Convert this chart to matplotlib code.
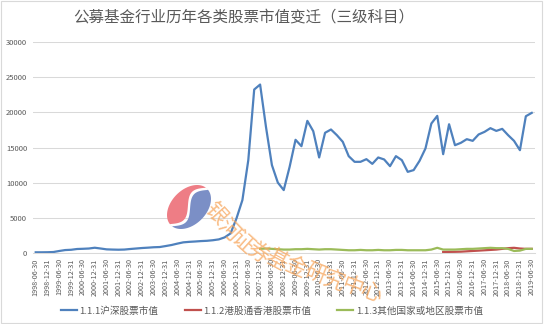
import numpy as np
import matplotlib
matplotlib.use("Agg")
import matplotlib.pyplot as plt
from matplotlib.lines import Line2D
from matplotlib.patches import Rectangle

plt.rcParams['font.family'] = ['Noto Sans CJK SC', 'DejaVu Sans']

# quarterly report dates, 1998-06-30 .. 2019-06-30
quarter_ends = ["03-31", "06-30", "09-30", "12-31"]
dates = []
for year in range(1998, 2020):
    for q in quarter_ends:
        d = f"{year}-{q}"
        if "1998-06-30" <= d <= "2019-06-30":
            dates.append(d)

# 1.1.1 A-share holdings (100m CNY)
hs_values = [
    60, 60, 70, 100, 250, 380, 420, 530, 560, 600,
    710, 600, 480, 450, 430, 450, 530, 600, 670, 720,
    780, 810, 950, 1100, 1300, 1480, 1550, 1600, 1660, 1700,
    1780, 1900, 2190, 2760, 4900, 7500, 13200, 23270, 23980, 17900,
    12490, 10000, 8930, 12250, 16100, 15190, 18800, 17330, 13580, 17100,
    17570, 16760, 15810, 13770, 12960, 12960, 13340, 12670, 13580, 13300,
    12340, 13770, 13200, 11530, 11780, 13100, 14860, 18420, 19510, 14050,
    18320, 15330, 15670, 16190, 15950, 16860, 17230, 17760, 17370, 17660,
    16760, 15950, 14620, 19460, 19940,
]

# 1.1.2 Stock Connect Hong Kong holdings, from 2015-09-30
hk_start = 69
hk_values = [100, 120, 130, 150, 200, 250, 300, 350, 400, 450,
             550, 650, 700, 600, 550, 550]

# 1.1.3 other countries / regions, from 2007-12-31
other_start = 38
other_values = [
    550, 600, 550, 500, 450, 450, 500, 500, 550, 500,
    450, 500, 500, 450, 400, 350, 350, 400, 350, 350,
    400, 350, 350, 400, 400, 350, 350, 350, 350, 450,
    700, 450, 450, 450, 500, 550, 550, 600, 650, 700,
    650, 650, 550, 250, 300, 550, 550,
]

series_names = ["1.1.1沪深股票市值", "1.1.2港股通香港股票市值", "1.1.3其他国家或地区股票市值"]
colors = ["#4F81BD", "#C0504D", "#9BBB59"]
text_gray = "#595959"

fig = plt.figure(figsize=(5.46, 3.24), dpi=100)
ax = fig.add_axes([0.06, 0.22, 0.9193, 0.6494])

x_all = np.arange(len(dates))
ax.plot(x_all, hs_values, color=colors[0], lw=1.6, solid_joinstyle="round")
ax.plot(np.arange(hk_start, hk_start + len(hk_values)), hk_values, color=colors[1], lw=1.6)
ax.plot(np.arange(other_start, other_start + len(other_values)), other_values,
        color=colors[2], lw=1.6)

ax.set_xlim(-0.5, len(dates) - 0.5)
ax.set_ylim(0, 30000)
ax.set_yticks(np.arange(0, 30001, 5000))
ax.set_yticklabels([str(v) for v in range(0, 30001, 5000)])
ax.set_xticks(x_all[::2])
ax.set_xticklabels(dates[::2], rotation=90)
ax.tick_params(axis="y", length=0, labelsize=5.5, labelcolor=text_gray, pad=4)
ax.tick_params(axis="x", length=0, labelsize=5.2, labelcolor=text_gray, pad=4)
ax.grid(axis="y", color="#D9D9D9", lw=0.75)
ax.set_axisbelow(True)
for side in ["top", "right", "left"]:
    ax.spines[side].set_visible(False)
ax.spines["bottom"].set_color("#D9D9D9")
ax.spines["bottom"].set_linewidth(0.75)

fig.text(0.447, 0.947, "公募基金行业历年各类股票市值变迁（三级科目）",
         ha="center", va="center", fontsize=11.2, color=text_gray)

handles = [Line2D([], [], color=c, lw=1.6) for c in colors]
fig.legend(handles, series_names, loc="center", bbox_to_anchor=(0.498, 0.04),
           ncol=3, frameon=False, fontsize=6.9, labelcolor=text_gray,
           handlelength=1.7, handletextpad=0.25, columnspacing=2.7)

# chart border
fig.patches.append(Rectangle((0.002, 0.003), 0.99, 0.994, transform=fig.transFigure,
                             fill=False, ec="#D9D9D9", lw=0.8))

# logo: tilted ellipse split by an S-curve
logo = fig.add_axes([162 / 546, (324 - 234) / 324, 54 / 546, 54 / 324])
logo.set_xlim(-1.05, 1.05)
logo.set_ylim(-1.05, 1.05)
logo.set_aspect("equal")
logo.axis("off")
b = 0.68
u = np.linspace(-1, 1, 200)
top = b * np.sqrt(1 - u ** 2)
s = 0.4 * b * np.sin(np.pi * u)
gap = 0.06
red_u = np.concatenate([u, u[::-1]])
red_v = np.concatenate([top, np.clip(s + gap, -top, top)[::-1]])
blue_u = np.concatenate([u, u[::-1]])
blue_v = np.concatenate([np.clip(s - gap, -top, top), (-top)[::-1]])
th = np.radians(45)
for uu, vv, c in [(red_u, red_v, "#EE7D85"), (blue_u, blue_v, "#7B8FC6")]:
    logo.fill(uu * np.cos(th) - vv * np.sin(th), uu * np.sin(th) + vv * np.cos(th),
              color=c, lw=0)

# light orange watermark
wm_chars = "银河证券基金研究中心"
wm_pos = [(215, 214), (229, 230), (243, 243), (258, 253), (276, 260),
          (295, 267), (315, 274), (334, 281), (353, 287), (371, 292)]
wm_rot = [-48, -46, -42, -36, -28, -24, -22, -20, -20, -20]
for ch, (px, py), r in zip(wm_chars, wm_pos, wm_rot):
    fig.text(px / 546, 1 - py / 324, ch, ha="center", va="center", fontsize=15.5,
             rotation=r, color="#F7A65C", alpha=0.75, fontweight="light")

fig.savefig("out.png", dpi=100)
